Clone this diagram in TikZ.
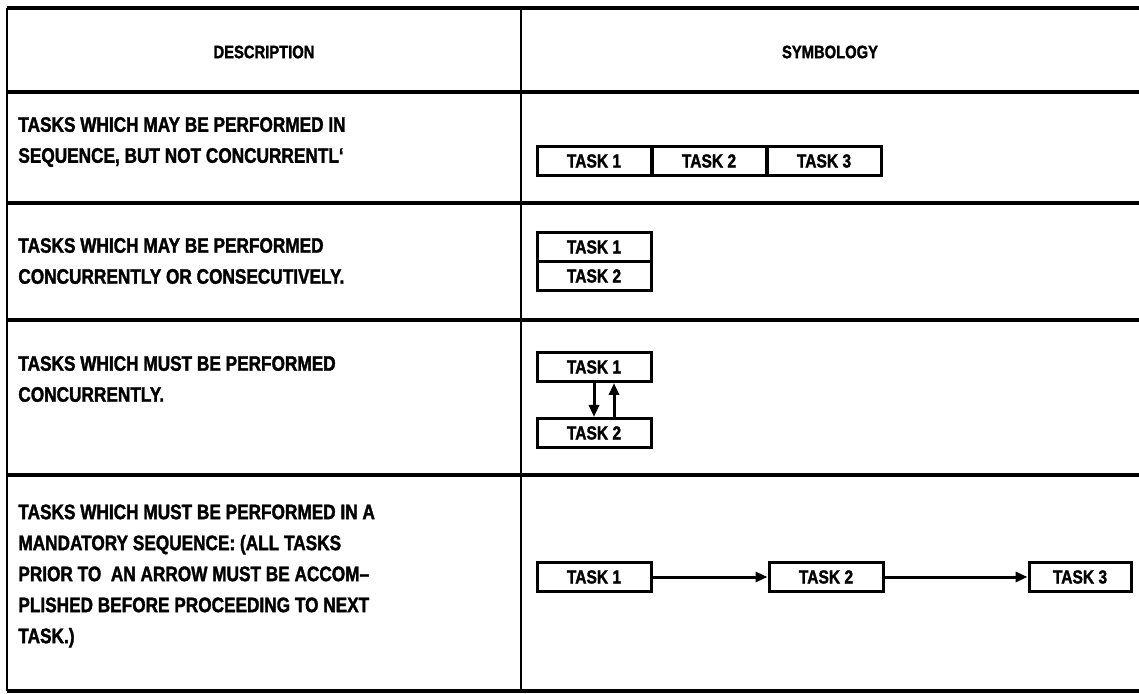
\documentclass[tikz,border=0pt]{standalone}
\usepackage{fontspec}
\setmainfont{Liberation Sans}[FakeStretch=0.82, BoldFeatures={FakeBold=1.6}]
\usetikzlibrary{arrows.meta}
\begin{document}
\begin{tikzpicture}[x=0.5pt,y=-0.5pt,
  hrule/.style={line width=2.2pt},
  vrule/.style={line width=1.4pt},
  taskbox/.style={draw, line width=1.5pt, minimum width=57pt, minimum height=14.5pt,
    inner sep=0pt, font=\bfseries\fontsize{9.5}{10}\selectfont},
  desc/.style={anchor=west, align=left, inner sep=0pt,
    font=\bfseries\fontsize{10.5}{15.5}\selectfont},
  head/.style={inner sep=0pt, font=\bfseries\fontsize{9}{10}\selectfont},
  flow/.style={line width=1.5pt, -{Triangle[length=6pt,width=5pt]}}]
\useasboundingbox[fill=white] (0,0) rectangle (1139,694);

% table rules
\foreach \y in {8,92,203,320,475,691}
  \draw[hrule] (7,\y) -- (1139,\y);
\draw[vrule] (7,8) -- (7,691);
\draw[vrule] (521,8) -- (521,691);

% header
\node[head] (hdesc) at (264,52) {DESCRIPTION};
\node[head] (hsym) at (830,52) {SYMBOLOGY};

% descriptions
\node[desc] (d1) at (18,142) {TASKS WHICH MAY BE PERFORMED IN\\SEQUENCE, BUT NOT CONCURRENTL`};
\node[desc] (d2) at (18,261) {TASKS WHICH MAY BE PERFORMED\\CONCURRENTLY OR CONSECUTIVELY.};
\node[desc] (d3) at (18,379) {TASKS WHICH MUST BE PERFORMED\\CONCURRENTLY.};
\node[desc] (d4) at (18,576) {TASKS WHICH MUST BE PERFORMED IN A\\MANDATORY SEQUENCE: (ALL TASKS\\PRIOR TO \ AN ARROW MUST BE ACCOM--\\PLISHED BEFORE PROCEEDING TO NEXT\\TASK.)};

% row 1: tasks in sequence, not concurrent
\node[taskbox] (a1) at (594,161) {TASK 1};
\node[taskbox] (a2) at (709,161) {TASK 2};
\node[taskbox] (a3) at (824,161) {TASK 3};

% row 2: concurrent or consecutive
\node[taskbox] (b1) at (594,247) {TASK 1};
\node[taskbox] (b2) at (594,276) {TASK 2};

% row 3: must be concurrent
\node[taskbox] (c1) at (594,367) {TASK 1};
\node[taskbox] (c2) at (594,433) {TASK 2};
\draw[flow] (c1.south) -- (c2.north);
\draw[flow] ([xshift=10pt]c2.north) -- ([xshift=10pt]c1.south);

% row 4: mandatory sequence
\node[taskbox] (e1) at (594,577) {TASK 1};
\node[taskbox] (e2) at (826,577) {TASK 2};
\node[taskbox, minimum width=51pt] (e3) at (1080,577) {TASK 3};
\draw[flow] (e1) -- (e2);
\draw[flow] (e2) -- (e3);
\end{tikzpicture}
\end{document}
